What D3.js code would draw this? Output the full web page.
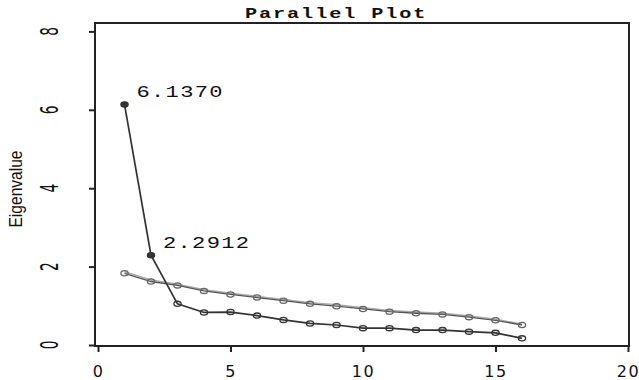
<!DOCTYPE html>
<html>
<head>
<meta charset="utf-8">
<title>Parallel Plot</title>
<style>
  body { margin: 0; background: #fff; }
  svg { display: block; }
</style>
</head>
<body>
<script src="https://cdn.jsdelivr.net/npm/d3@7"></script>
<script>
// data
var factors = [1, 2, 3, 4, 5, 6, 7, 8, 9, 10, 11, 12, 13, 14, 15, 16]
var eigen = [6.137, 2.2912, 1.05, 0.83, 0.84, 0.75, 0.64, 0.55, 0.51, 0.43, 0.43, 0.38, 0.38, 0.34, 0.31, 0.17]
var randMean = [1.83, 1.62, 1.52, 1.38, 1.29, 1.21, 1.13, 1.05, 0.99, 0.92, 0.85, 0.81, 0.78, 0.71, 0.63, 0.51]
var randPct = [1.87, 1.66, 1.55, 1.41, 1.32, 1.24, 1.16, 1.08, 1.03, 0.95, 0.88, 0.84, 0.81, 0.74, 0.66, 0.53]
var labelled = [0, 1]   // indexes of eigenvalues printed next to their points
var xTicks = [0, 5, 10, 15, 20]
var yTicks = [0, 2, 4, 6, 8]

var width = 639
var height = 380
var box = {left: 95, top: 23, right: 629, bottom: 346}

var svg = d3.select('body')
    .append('svg')
    .attr('width', width)
    .attr('height', height)

var x = d3.scaleLinear().domain([0, 20]).range([98, 628])
var y = d3.scaleLinear().domain([0, 8]).range([345, 31.4])

// title
svg.append('text')
    .attr('transform', 'translate(245,18) scale(1.35,1)')
    .attr('font-family', 'Liberation Mono, DejaVu Sans Mono, monospace')
    .attr('font-weight', 'bold')
    .attr('font-size', 15)
    .attr('letter-spacing', 1.4)
    .attr('fill', '#111')
    .text('Parallel Plot')

// frame
svg.append('rect')
    .attr('x', box.left)
    .attr('y', box.top)
    .attr('width', box.right - box.left)
    .attr('height', box.bottom - box.top)
    .attr('fill', 'none')
    .attr('stroke', '#222')
    .attr('stroke-width', 2)

// x axis
var xAxis = svg.append('g')
    .attr('transform', 'translate(0,' + box.bottom + ')')
    .call(d3.axisBottom(x).tickValues(xTicks).tickSize(6).tickPadding(14))
xAxis.select('.domain').remove()
xAxis.selectAll('line').attr('stroke', '#222').attr('stroke-width', 2)
xAxis.selectAll('text')
    .attr('font-family', 'DejaVu Sans, sans-serif')
    .attr('font-size', 16)
    .attr('letter-spacing', 1.5)
    .attr('fill', '#111')

// y axis
var yAxis = svg.append('g')
    .attr('transform', 'translate(' + box.left + ',0)')
    .call(d3.axisLeft(y).tickValues(yTicks).tickSize(6).tickFormat(''))
yAxis.select('.domain').remove()
yAxis.selectAll('line').attr('stroke', '#222').attr('stroke-width', 2)

svg.append('g').selectAll('text')
    .data(yTicks)
    .enter()
    .append('text')
    .attr('transform', function(d) {
        return 'translate(58,' + y(d) + ') rotate(-90) scale(0.55,1)'
    })
    .attr('text-anchor', 'middle')
    .attr('font-family', 'DejaVu Sans, sans-serif')
    .attr('font-size', 25)
    .attr('fill', '#111')
    .text(function(d) { return d })

svg.append('text')
    .attr('transform', 'translate(22,189) rotate(-90) scale(0.82,1)')
    .attr('text-anchor', 'middle')
    .attr('font-family', 'Liberation Sans, Arial, sans-serif')
    .attr('font-size', 19)
    .attr('fill', '#111')
    .text('Eigenvalue')

var line = d3.line()
    .x(function(d, i) { return x(factors[i]) })
    .y(function(d) { return y(d) })

// random data eigenvalues (two close lines)
svg.append('path')
    .datum(randPct)
    .attr('d', line)
    .attr('fill', 'none')
    .attr('stroke', '#aaa')
    .attr('stroke-width', 1.5)

svg.append('path')
    .datum(randMean)
    .attr('d', line)
    .attr('fill', 'none')
    .attr('stroke', '#555')
    .attr('stroke-width', 1.3)

svg.append('g').selectAll('ellipse')
    .data(randMean)
    .enter()
    .append('ellipse')
    .attr('cx', function(d, i) { return x(factors[i]) })
    .attr('cy', function(d) { return y(d) })
    .attr('rx', 3.6)
    .attr('ry', 2.6)
    .attr('fill', 'none')
    .attr('stroke', '#666')
    .attr('stroke-width', 1.3)

// actual eigenvalues
svg.append('path')
    .datum(eigen)
    .attr('d', line)
    .attr('fill', 'none')
    .attr('stroke', '#333')
    .attr('stroke-width', 1.7)

svg.append('g').selectAll('ellipse')
    .data(eigen)
    .enter()
    .append('ellipse')
    .attr('cx', function(d, i) { return x(factors[i]) })
    .attr('cy', function(d) { return y(d) })
    .attr('rx', 3.6)
    .attr('ry', 2.6)
    .attr('fill', function(d, i) { return labelled.indexOf(i) >= 0 ? '#333' : 'none' })
    .attr('stroke', '#333')
    .attr('stroke-width', 1.3)

svg.append('g').selectAll('text')
    .data(labelled)
    .enter()
    .append('text')
    .attr('transform', function(i) {
        return 'translate(' + (x(factors[i]) + 12) + ',' + (y(eigen[i]) - 7) + ') scale(1.3,1)'
    })
    .attr('font-family', 'Liberation Mono, DejaVu Sans Mono, monospace')
    .attr('font-size', 17)
    .attr('letter-spacing', 1)
    .attr('fill', '#111')
    .text(function(i) { return eigen[i].toFixed(4) })
</script>
</body>
</html>
